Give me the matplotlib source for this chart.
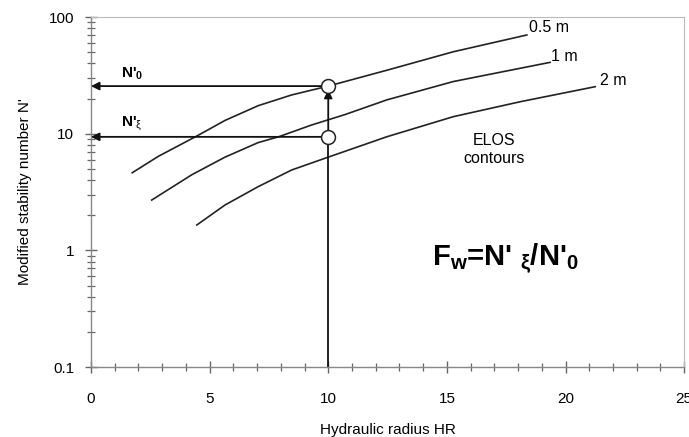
import numpy as np
import matplotlib.pyplot as plt
from matplotlib.ticker import MultipleLocator, LogLocator, NullFormatter, FixedLocator

plt.rcParams['font.family'] = ['Liberation Sans', 'DejaVu Sans']
plt.rcParams['mathtext.fontset'] = 'custom'
plt.rcParams['mathtext.rm'] = 'Liberation Sans'
plt.rcParams['mathtext.bf'] = 'Liberation Sans:bold'

# ELOS contours
hr_05 = [1.74, 2.84, 4.46, 5.65, 7.05, 8.46, 10.0, 12.47, 15.27, 18.37]
n_05 = [4.63, 6.4, 9.55, 13.0, 17.4, 21.5, 25.6, 35.0, 50.4, 70.2]

hr_1 = [2.56, 4.25, 5.65, 7.05, 7.90, 9.31, 10.71, 12.47, 15.27, 19.35]
n_1 = [2.70, 4.45, 6.3, 8.4, 9.4, 11.9, 14.6, 19.5, 28.0, 40.9]

hr_2 = [4.46, 5.65, 7.05, 8.46, 10.0, 12.47, 15.27, 18.09, 21.25]
n_2 = [1.65, 2.45, 3.52, 4.89, 6.3, 9.42, 14.0, 18.8, 25.3]

contour_labels = ['0.5 m', '1 m', '2 m']

hr_pick = 10.0
n0_val = 25.6
nxi_val = 9.4

x_ticks = [0, 5, 10, 15, 20, 25]
y_ticks = [0.1, 1, 10, 100]
y_ticklabels = ['0.1', '1', '10', '100']

fig = plt.figure(figsize=(6.89, 4.37), dpi=100)
ax = fig.add_axes([0.132, 0.160, 0.861, 0.801])

ax.set_yscale('log')
ax.set_xlim(0, 25)
ax.set_ylim(0.1, 100)

for xs, ys in [(hr_05, n_05), (hr_1, n_1), (hr_2, n_2)]:
    ax.plot(xs, ys, color='#222222', lw=1.2, solid_joinstyle='round')

# contour labels at end of each line
ax.text(hr_05[-1] + 0.1, n_05[-1] * 1.0, contour_labels[0], fontsize=11.5, va='bottom', ha='left')
ax.text(hr_1[-1] + 0.05, n_1[-1] * 0.97, contour_labels[1], fontsize=11.5, va='bottom', ha='left')
ax.text(hr_2[-1] + 0.2, n_2[-1] * 0.97, contour_labels[2], fontsize=11.5, va='bottom', ha='left')
ax.text(17.0, 7.3, 'ELOS\ncontours', fontsize=11.5, ha='center', va='center', linespacing=1.25)

# reading arrows
arr = dict(arrowstyle='-|>', color='#111111', lw=1.3, mutation_scale=12, shrinkA=0, shrinkB=0)
ax.annotate('', xy=(0, n0_val), xytext=(hr_pick, n0_val), arrowprops=arr)
ax.annotate('', xy=(0, nxi_val), xytext=(hr_pick, nxi_val), arrowprops=arr)
ax.plot([hr_pick, hr_pick], [0.1, nxi_val], color='#111111', lw=1.3)
ax.annotate('', xy=(hr_pick, n0_val * 0.93), xytext=(hr_pick, nxi_val * 1.08), arrowprops=arr)
ax.plot([hr_pick, hr_pick], [n0_val, nxi_val], 'o', ms=10, mfc='white', mec='#222222', mew=1.1, zorder=5)

ax.text(1.25, n0_val * 1.08, r"N'$_{\mathbf{0}}$", fontsize=11, fontweight='bold', va='bottom')
ax.text(1.25, nxi_val * 1.08, r"N'$_{\mathrm{ξ}}$", fontsize=11, fontweight='bold', va='bottom')

ax.text(17.45, 0.84, r"F$_{\mathbf{w}}$=N' $_{\mathbf{ξ}}$/N'$_{\mathbf{0}}$", fontsize=21,
        fontweight='bold', ha='center', va='center')

# axes style
for s in ['left', 'bottom']:
    ax.spines[s].set_color('#888888')
    ax.spines[s].set_linewidth(1.0)
for s in ['top', 'right']:
    ax.spines[s].set_color('#bbbbbb')
    ax.spines[s].set_linewidth(0.8)

ax.xaxis.set_major_locator(FixedLocator(x_ticks))
ax.xaxis.set_minor_locator(MultipleLocator(1))
ax.yaxis.set_major_locator(FixedLocator(y_ticks))
ax.set_yticklabels(y_ticklabels)
ax.yaxis.set_minor_locator(LogLocator(base=10, subs=np.arange(2, 10)))
ax.yaxis.set_minor_formatter(NullFormatter())
ax.tick_params(which='major', direction='inout', length=8, width=1.0, color='#666666',
               labelsize=11, top=False, right=False)
ax.tick_params(which='minor', direction='inout', length=6, width=0.9, color='#666666',
               top=False, right=False)
ax.tick_params(axis='x', which='major', pad=14)
ax.tick_params(axis='y', which='major', pad=8)

ax.set_xlabel('Hydraulic radius HR', fontsize=11, labelpad=12)
ax.set_ylabel("Modified stability number N'", fontsize=11, labelpad=12)

fig.savefig('out.png', dpi=100)
